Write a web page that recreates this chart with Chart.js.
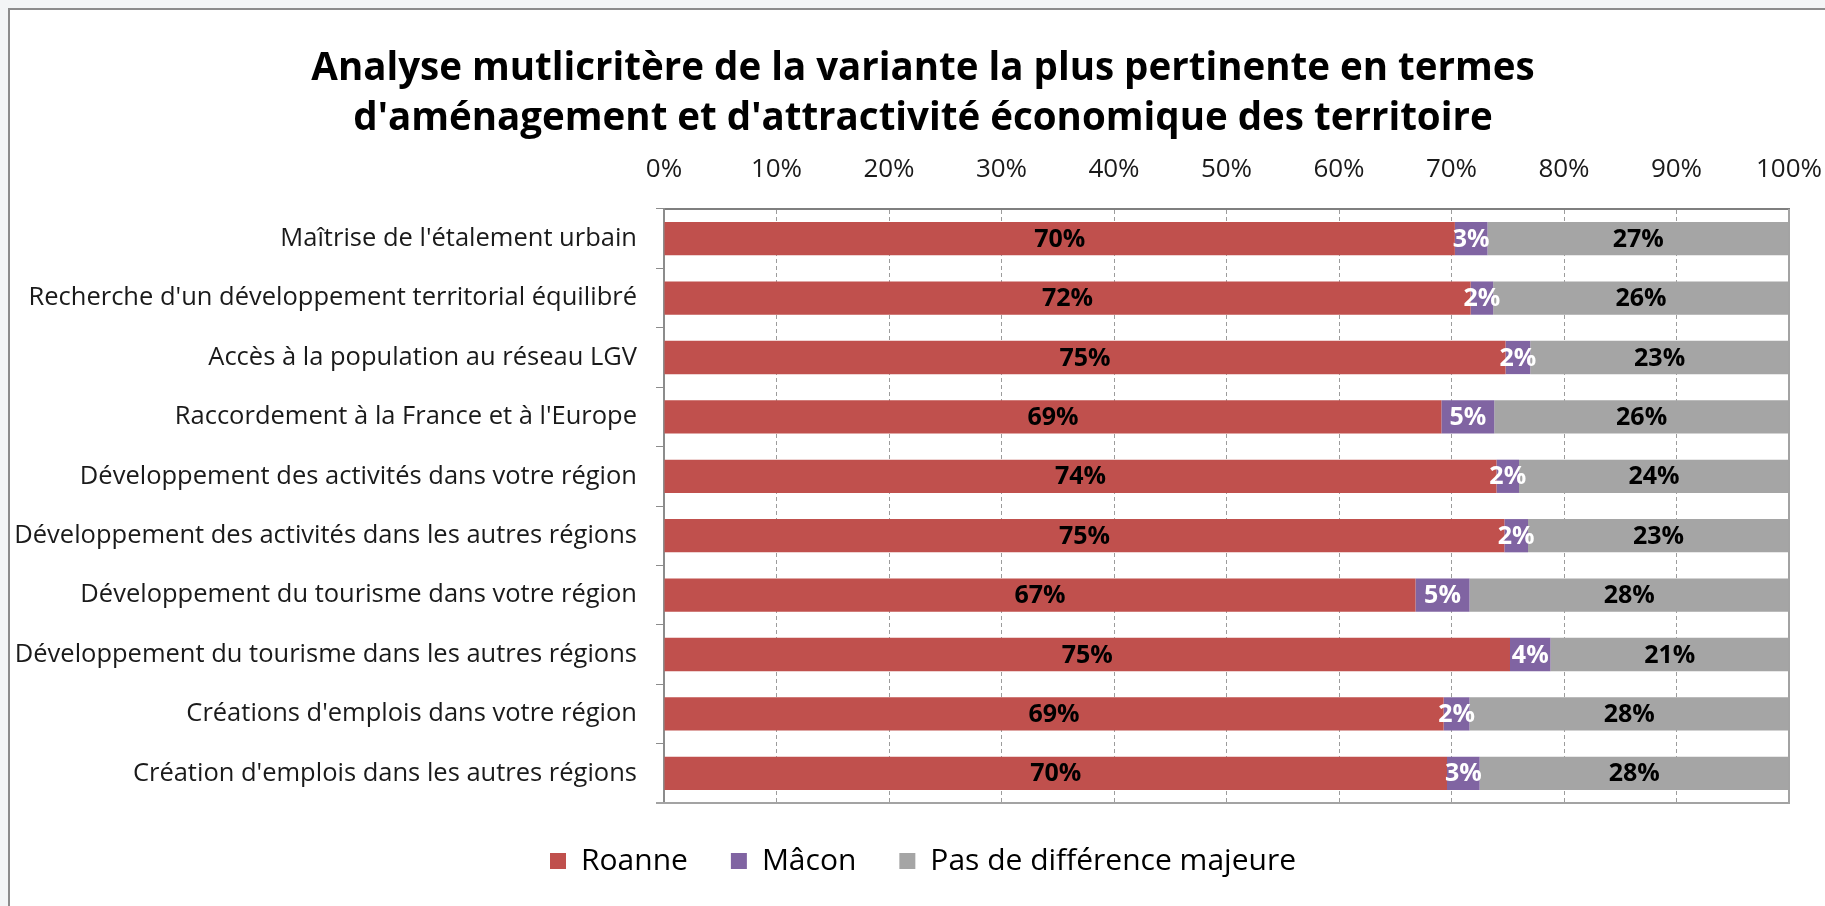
<!DOCTYPE html>
<html lang="fr">
<head>
<meta charset="utf-8">
<title>Analyse multicritère</title>
<script src="https://cdn.jsdelivr.net/npm/chart.js@4.4.1/dist/chart.umd.min.js"></script>
<style>
  html, body { margin: 0; padding: 0; width: 1825px; height: 906px; overflow: hidden; background: #f3f5f6; }
  #frame { position: absolute; left: 8px; top: 8px; width: 1830px; height: 910px; background: #fff;
           border-left: 2px solid #8c8c8c; border-top: 2px solid #8c8c8c; }
  #wrap { position: absolute; left: 0; top: 0; width: 1825px; height: 906px; }
</style>
</head>
<body>
<div id="frame"></div>
<div id="wrap"><canvas id="chart"></canvas></div>
<script>
const titleLines = [
  "Analyse mutlicritère de la variante la plus pertinente en termes",
  "d'aménagement et d'attractivité économique des territoire"
];
const categories = [
  "Maîtrise de l'étalement urbain",
  "Recherche d'un développement territorial équilibré",
  "Accès à la population au réseau LGV",
  "Raccordement à la France et à l'Europe",
  "Développement des activités dans votre région",
  "Développement des activités dans les autres régions",
  "Développement du tourisme dans votre région",
  "Développement du tourisme dans les autres régions",
  "Créations d'emplois dans votre région",
  "Création d'emplois dans les autres régions"
];
const seriesNames = ["Roanne", "Mâcon", "Pas de différence majeure"];
const roanne = [70.3, 71.7, 74.8, 69.1, 74.0, 74.7, 66.8, 75.2, 69.3, 69.6];
const macon = [2.9, 2.0, 2.2, 4.7, 2.0, 2.1, 4.8, 3.6, 2.3, 2.9];
const autres = [26.8, 26.3, 23.0, 26.2, 24.0, 23.2, 28.4, 21.2, 28.4, 27.5];

Chart.defaults.font.family = '"Open Sans", sans-serif';
Chart.defaults.color = "#222";

// étiquettes de valeur au centre de chaque segment
const valueLabels = {
  id: "valueLabels",
  afterDatasetsDraw(chart) {
    const ctx = chart.ctx;
    ctx.save();
    ctx.font = 'bold 25px "Open Sans", sans-serif';
    ctx.textAlign = "center";
    ctx.textBaseline = "middle";
    chart.data.datasets.forEach((ds, i) => {
      chart.getDatasetMeta(i).data.forEach((bar, j) => {
        ctx.fillStyle = ds.labelColor;
        ctx.fillText(Math.round(ds.data[j]) + "%", (bar.x + bar.base) / 2, bar.y + 1);
      });
    });
    ctx.restore();
  }
};

// bords droit et bas de la zone de tracé
const plotBorder = {
  id: "plotBorder",
  afterLayout(chart) {
    // les libellés longs débordent dans la marge gauche : on élargit la zone de découpe
    chart.scales.y.left = 0;
  },
  afterDatasetsDraw(chart) {
    const { ctx, chartArea: a } = chart;
    ctx.save();
    ctx.strokeStyle = "#a3a3a3";
    ctx.lineWidth = 2;
    ctx.beginPath();
    ctx.moveTo(a.right, a.top);
    ctx.lineTo(a.right, a.bottom);
    ctx.lineTo(a.left - 8, a.bottom);
    ctx.stroke();
    ctx.restore();
  }
};

new Chart(document.getElementById("chart").getContext("2d"), {
  type: "bar",
  data: {
    labels: categories,
    datasets: [
      { label: seriesNames[0], data: roanne, backgroundColor: "#c0504d", labelColor: "#000" },
      { label: seriesNames[1], data: macon, backgroundColor: "#8064a2", labelColor: "#fff" },
      { label: seriesNames[2], data: autres, backgroundColor: "#a5a5a5", labelColor: "#000" }
    ]
  },
  options: {
    indexAxis: "y",
    responsive: true,
    maintainAspectRatio: false,
    animation: false,
    datasets: { bar: { barPercentage: 0.56, categoryPercentage: 1 } },
    layout: { padding: { left: 57, right: 36, top: 10, bottom: 20 } },
    scales: {
      x: {
        position: "top",
        stacked: true,
        min: 0,
        max: 100,
        ticks: { stepSize: 10, callback: (v) => v + "%", font: { size: 26 }, padding: 24, color: "#1a1a1a" },
        grid: { color: "#9c9c9c", drawTicks: false },
        border: { display: true, color: "#7f7f7f", width: 2, dash: [4, 3] },
        afterFit: (s) => { s.height = 65; s.paddingLeft = 0; s.paddingRight = 0; }
      },
      y: {
        stacked: true,
        ticks: { font: { size: 25.5 }, padding: 19, color: "#1a1a1a" },
        grid: { drawOnChartArea: false, drawTicks: true, tickLength: 8, tickColor: "#8c8c8c", offset: true },
        border: { color: "#8c8c8c", width: 2 },
        afterFit: (s) => { s.width = 607; s.paddingTop = 0; s.paddingBottom = 0; }
      }
    },
    plugins: {
      title: {
        display: true,
        text: titleLines,
        color: "#000",
        font: { size: 38.5, weight: "bold", lineHeight: 50 / 38.5 },
        padding: { top: 34, bottom: 0 }
      },
      legend: {
        position: "bottom",
        labels: { font: { size: 30 }, color: "#000", boxWidth: 16, boxHeight: 16, padding: 43 }
      },
      tooltip: { enabled: false }
    }
  },
  plugins: [valueLabels, plotBorder]
});
</script>
</body>
</html>
